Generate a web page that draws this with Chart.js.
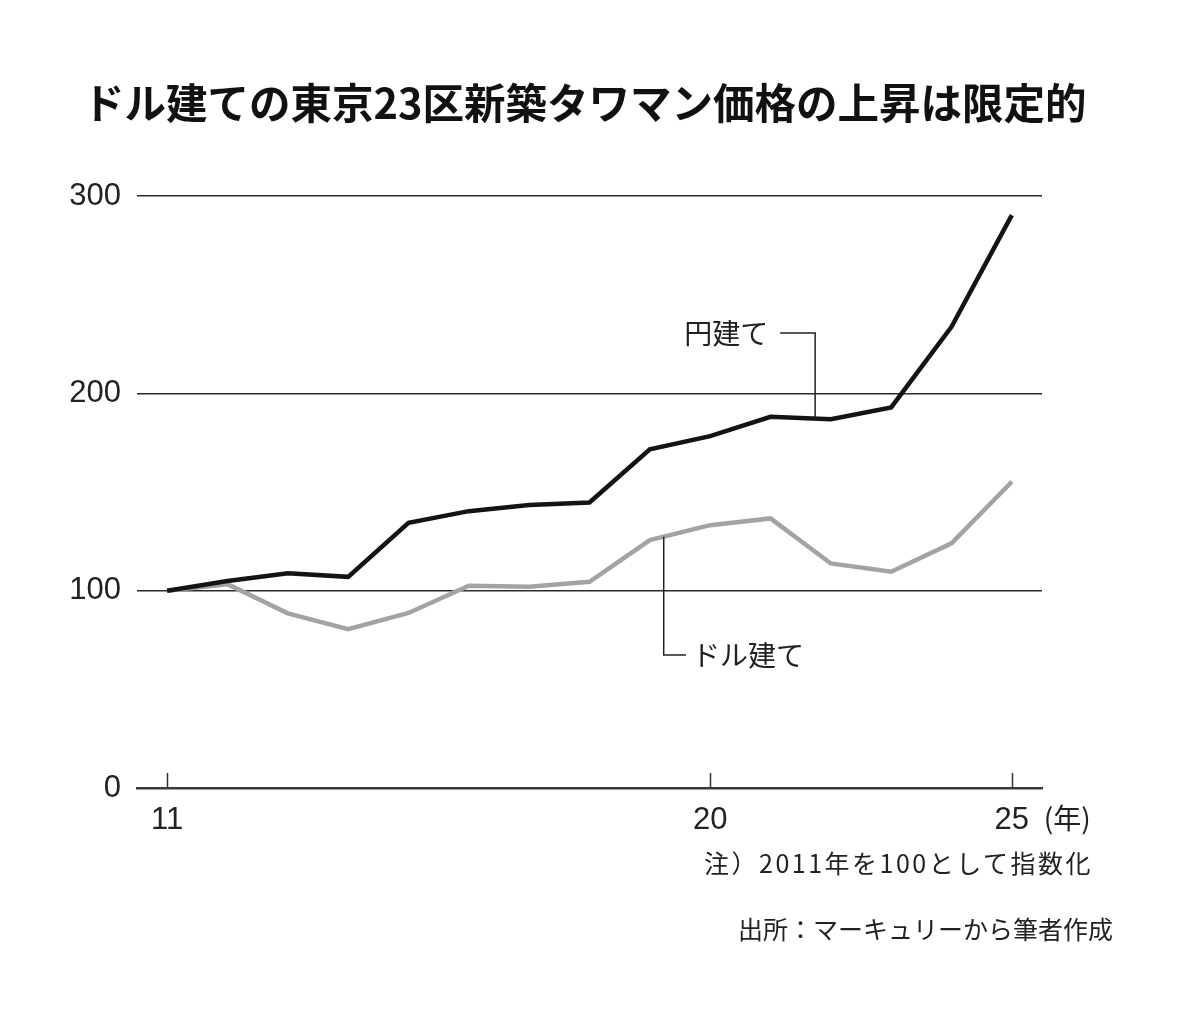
<!DOCTYPE html>
<html lang="ja">
<head>
<meta charset="utf-8">
<title>ドル建ての東京23区新築タワマン価格の上昇は限定的</title>
<script src="https://cdn.jsdelivr.net/npm/chart.js@4"></script>
<style>
    html, body { margin: 0; padding: 0; background: #fff; }
    .wrap { position: relative; width: 1200px; height: 1011px; overflow: hidden; }
    #chart { position: absolute; left: 0; top: 0; }
    .title {
        position: absolute; left: 83px; top: 75px;
        font-family: "Noto Sans CJK JP", sans-serif; font-weight: 700;
        font-size: 41.5px; line-height: 52px; color: #111; white-space: nowrap;
    }
    .note {
        position: absolute;
        font-family: "Noto Sans CJK JP", sans-serif; font-size: 25px;
        color: #222; white-space: nowrap; line-height: 32px;
    }
</style>
</head>
<body>
<div class="wrap">
    <canvas id="chart" width="1200" height="1011"></canvas>
    <div class="title">ドル建ての東京23区新築タワマン価格の上昇は限定的</div>
    <div class="note" style="top: 846px; right: 107px; letter-spacing: 2.5px;">注）2011年を100として指数化</div>
    <div class="note" style="top: 912px; right: 87px;">出所：マーキュリーから筆者作成</div>
</div>
<script>
// years (20xx) and index values, 2011 = 100
const years = [11, 12, 13, 14, 15, 16, 17, 18, 19, 20, 21, 22, 23, 24, 25];
const yenIndex = [100, 104.9, 108.8, 107.0, 134.4, 140.3, 143.4, 144.7, 171.6, 178.3, 188.1, 186.9, 192.9, 233.7, 290.3];
const dollarIndex = [100, 103.3, 88.5, 80.5, 88.7, 102.5, 102.0, 104.5, 125.6, 133.2, 136.6, 113.8, 109.6, 124.0, 155.2];
const xTickValues = [11, 20, 25];
const yTickValues = [0, 100, 200, 300];

const numFont = '"Liberation Sans", Arial, sans-serif';
const jpFont = '"Noto Sans CJK JP", sans-serif';

function toPoints(values) {
    return values.map((v, i) => ({ x: years[i], y: v }));
}

// tick marks, unit label and the two line labels with their leaders
const decorations = {
    id: 'decorations',
    afterDraw(chart) {
        const ctx = chart.ctx;
        const xs = chart.scales.x;
        const ys = chart.scales.y;
        const base = ys.getPixelForValue(0);

        ctx.save();
        ctx.strokeStyle = '#333';
        ctx.lineWidth = 1.5;
        xTickValues.forEach(v => {
            const px = Math.round(xs.getPixelForValue(v)) + 0.5;
            ctx.beginPath();
            ctx.moveTo(px, base);
            ctx.lineTo(px, base - 15);
            ctx.stroke();
        });

        // (年) after the last tick label
        ctx.fillStyle = '#222';
        ctx.font = '28px ' + jpFont;
        ctx.textBaseline = 'middle';
        ctx.textAlign = 'left';
        ctx.fillText('(年)', xs.getPixelForValue(25) + 32, base + 30);

        // 円建て leader
        ctx.strokeStyle = '#222';
        ctx.lineWidth = 1.5;
        let x0 = xs.getPixelForValue(21.16);
        let x1 = xs.getPixelForValue(21.74);
        let yTop = ys.getPixelForValue(230.6);
        let yEnd = ys.getPixelForValue(187.2);
        ctx.beginPath();
        ctx.moveTo(x0, yTop);
        ctx.lineTo(x1, yTop);
        ctx.lineTo(x1, yEnd);
        ctx.stroke();
        ctx.font = '28px ' + jpFont;
        ctx.textAlign = 'right';
        ctx.fillText('円建て', x0 - 12, yTop);

        // ドル建て leader
        x0 = xs.getPixelForValue(19.23);
        x1 = xs.getPixelForValue(19.6);
        yTop = ys.getPixelForValue(127.3);
        yEnd = ys.getPixelForValue(67.4);
        ctx.beginPath();
        ctx.moveTo(x0, yTop);
        ctx.lineTo(x0, yEnd);
        ctx.lineTo(x1, yEnd);
        ctx.stroke();
        ctx.textAlign = 'left';
        ctx.fillText('ドル建て', x1 + 6, yEnd);
        ctx.restore();
    }
};

new Chart(document.getElementById('chart'), {
    type: 'line',
    data: {
        datasets: [
            {
                label: '円建て',
                data: toPoints(yenIndex),
                borderColor: '#141414',
                borderWidth: 4.5,
                pointRadius: 0,
                tension: 0
            },
            {
                label: 'ドル建て',
                data: toPoints(dollarIndex),
                borderColor: '#a3a3a3',
                borderWidth: 4.5,
                pointRadius: 0,
                tension: 0
            }
        ]
    },
    options: {
        responsive: false,
        animation: false,
        layout: { padding: { top: 196, bottom: 163, left: 0, right: 158 } },
        plugins: {
            legend: { display: false },
            title: { display: false },
            tooltip: { enabled: false }
        },
        scales: {
            x: {
                type: 'linear',
                min: 10.5,
                max: 25.5,
                afterFit: scale => { scale.height = 60; },
                afterBuildTicks: scale => { scale.ticks = xTickValues.map(v => ({ value: v })); },
                grid: { display: false, drawTicks: false },
                border: { display: true, color: '#3a3a3a', width: 2.5 },
                ticks: {
                    padding: 14,
                    maxRotation: 0,
                    autoSkip: false,
                    color: '#222',
                    font: { family: numFont, size: 31 }
                }
            },
            y: {
                min: 0,
                max: 300,
                afterFit: scale => { scale.width = 137; },
                afterBuildTicks: scale => { scale.ticks = yTickValues.map(v => ({ value: v })); },
                grid: {
                    drawTicks: false,
                    color: '#2a2a2a',
                    lineWidth: ctx => (ctx.tick && ctx.tick.value === 0 ? 0 : 1.5)
                },
                border: { display: false },
                ticks: {
                    padding: 16,
                    color: '#222',
                    font: { family: numFont, size: 31 }
                }
            }
        }
    },
    plugins: [decorations]
});
</script>
</body>
</html>
